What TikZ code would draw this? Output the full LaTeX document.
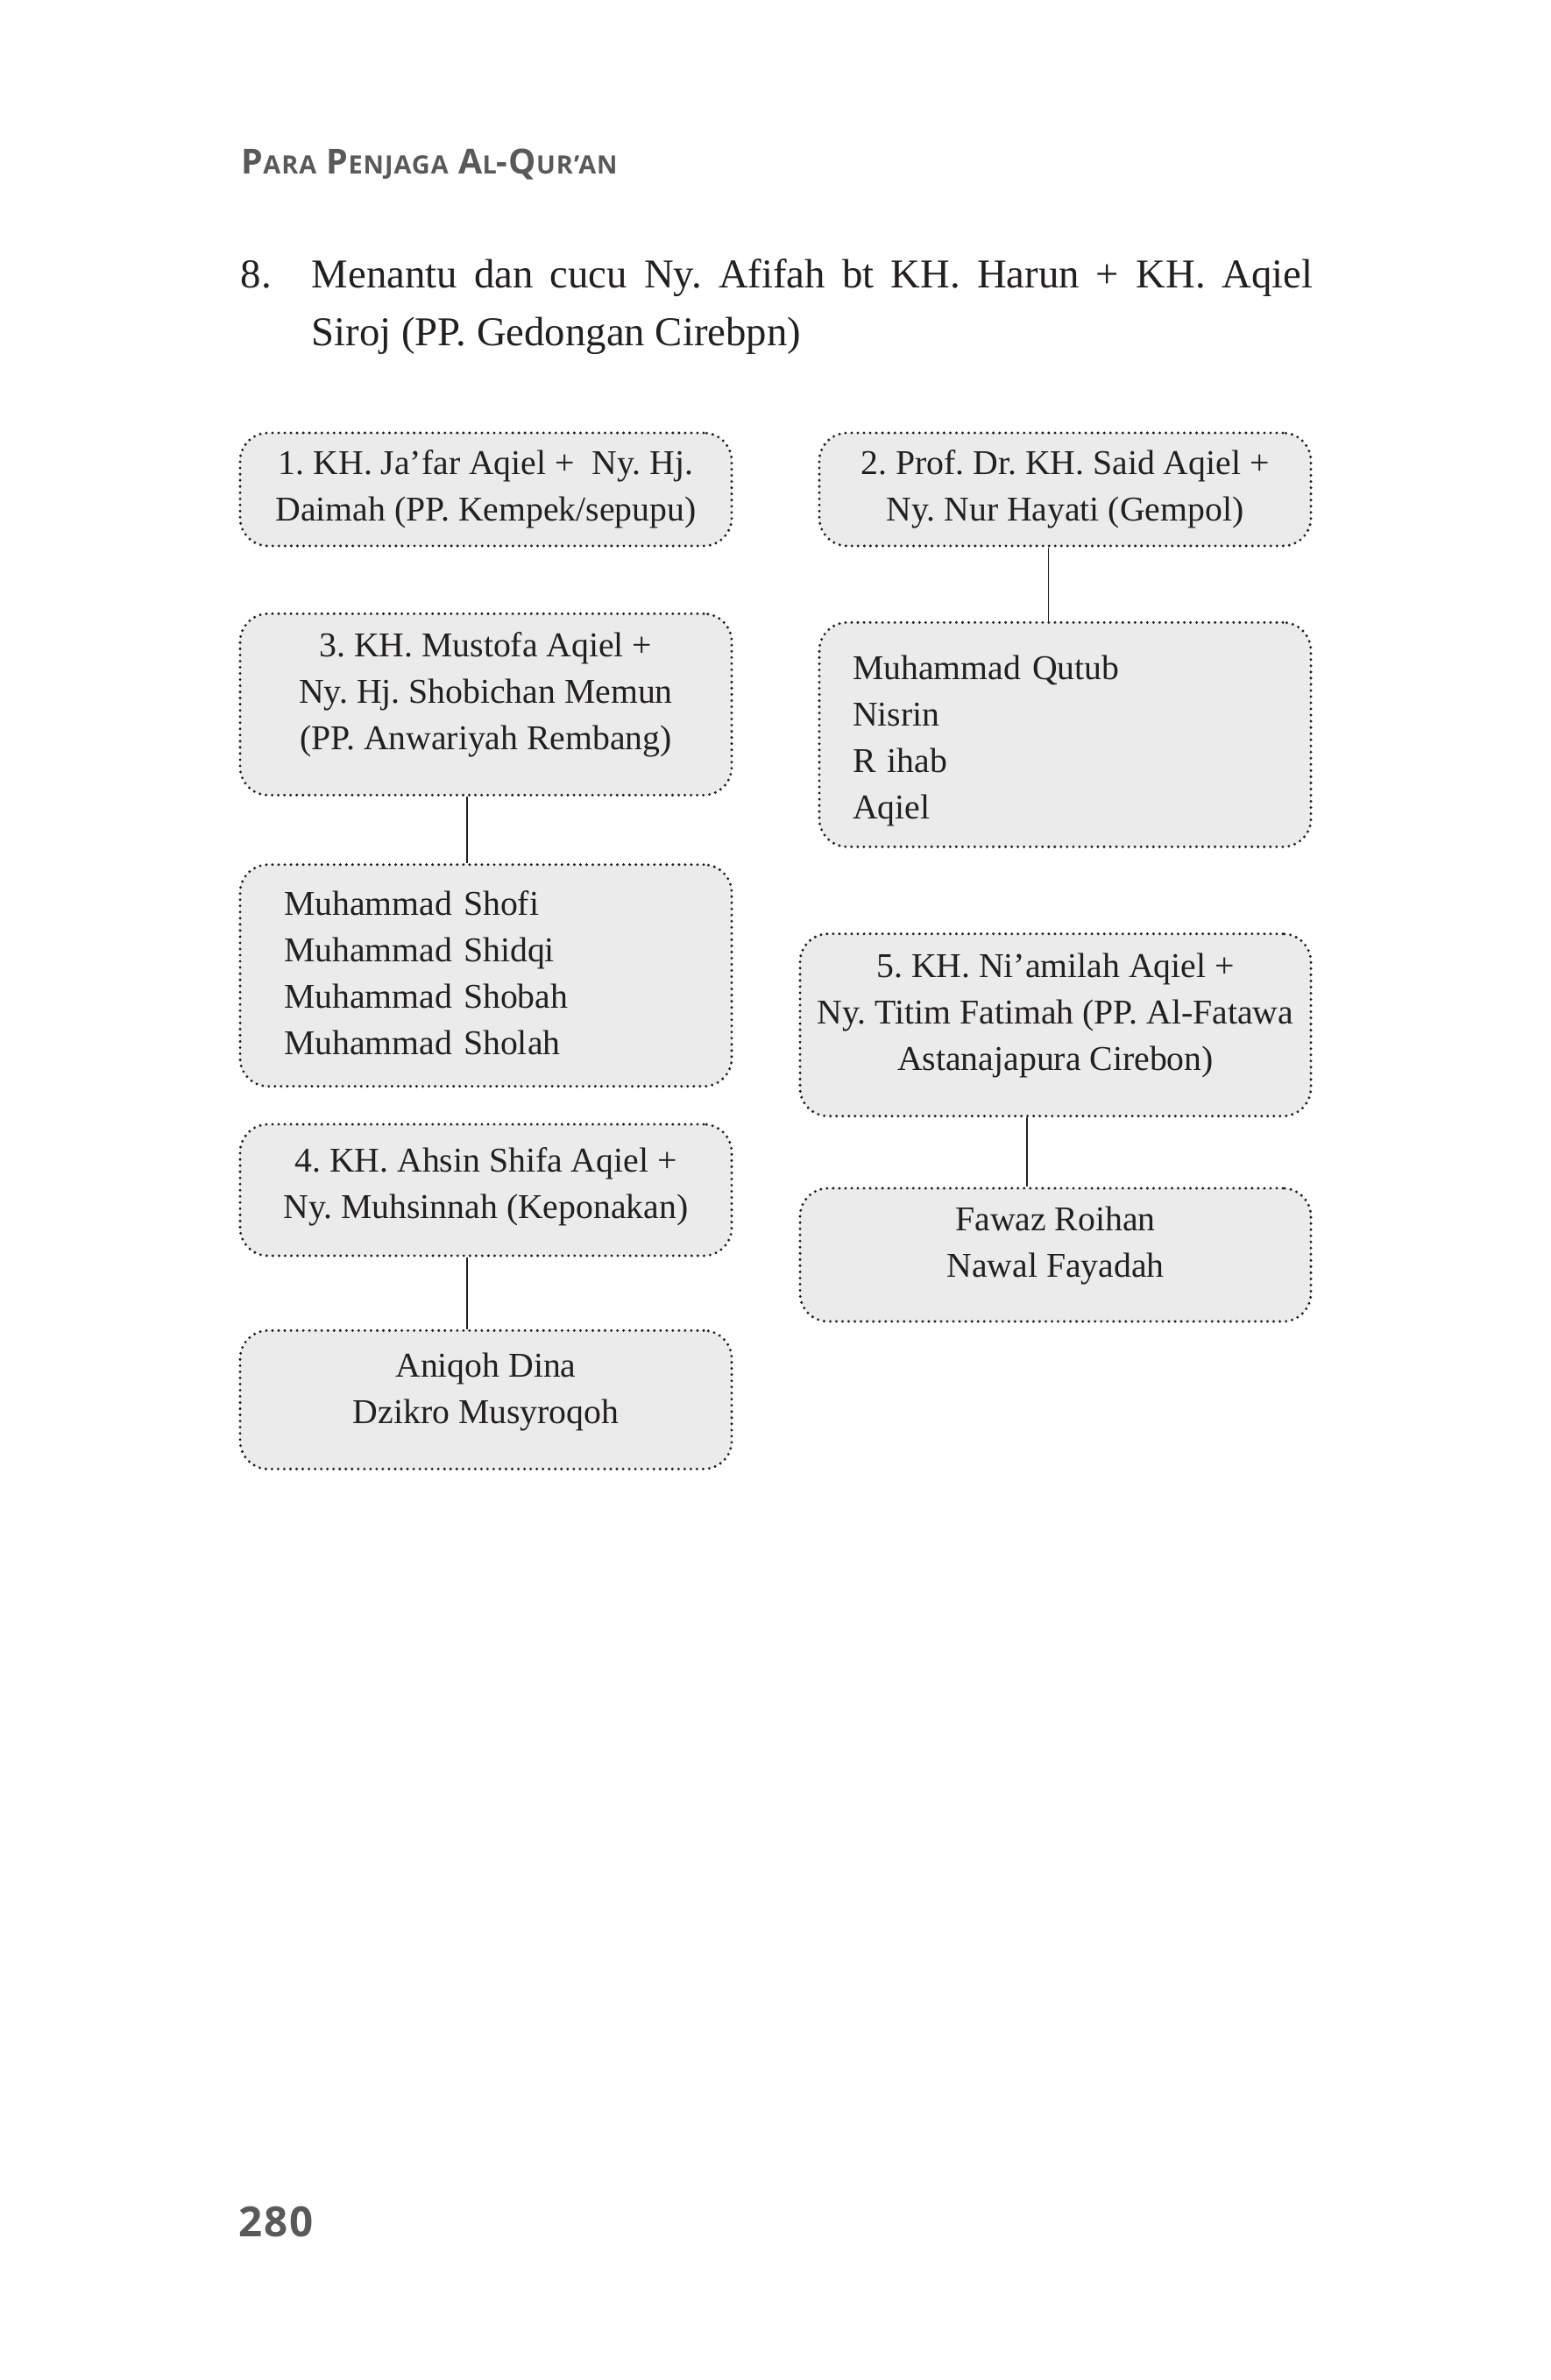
\documentclass[tikz,border=0pt]{standalone}
\usepackage{fontspec}
\setmainfont{Liberation Serif}
\newfontfamily\headfont{Open Sans}[LetterSpace=3.5]
\usepackage{xcolor}
\usetikzlibrary{positioning}
\definecolor{headgray}{HTML}{58595B}
\definecolor{boxfill}{HTML}{EBEBEB}
\definecolor{ink}{HTML}{231F20}
\hyphenpenalty=10000

\begin{document}
\frenchspacing
\begin{tikzpicture}[
    node distance=0.8cm,
    famil/.style={rectangle, draw=ink, fill=boxfill, rounded corners=0.32cm, line width=0.95pt, dash pattern=on 0pt off 2pt, line cap=round, minimum width=5.61cm, inner sep=0pt, align=center, text=ink, font=\fontsize{11.3}{15.1}\selectfont},
    kids/.style={famil, align=left},
    lift/.style={text depth=#1},
    lift/.default=0.3cm,
    link/.style={draw=ink, line width=0.4pt},
]

\path[fill=white, use as bounding box] (0,0) rectangle (17.7,-27.16);

% page head and foot
\node[anchor=base west, inner sep=0pt, text=headgray, font=\headfont\bfseries\fontsize{11.2}{12}\selectfont] (runhead) at (2.75,-1.98)
  {P{\fontsize{8.2}{9}\selectfont ARA} P{\fontsize{8.2}{9}\selectfont ENJAGA} A{\fontsize{8.2}{9}\selectfont L}-Q{\fontsize{8.2}{9}\selectfont UR’AN}};
\node[anchor=base west, inner sep=0pt, text=headgray, font=\headfont\bfseries\fontsize{13.5}{14}\selectfont] (pagenum) at (2.72,-25.52) {280};

% heading
\node[anchor=base west, inner sep=0pt, text=ink, font=\fontsize{13.3}{19}\selectfont] (num) at (2.74,-3.28) {8.};
\node[anchor=base west, inner sep=0pt, text=ink, text width=11.43cm, align=justify, font=\fontsize{13.3}{19}\selectfont] (title) at (3.55,-3.28)
  {Menantu dan cucu Ny. Afifah bt KH. Harun + KH. Aqiel\linebreak Siroj (PP. Gedongan Cirebpn)};

% left column
\node[famil, minimum height=1.29cm] (box1) at (5.545,-5.585) {1. KH. Ja’far Aqiel +\ \ Ny. Hj.\\Daimah (PP. Kempek/sepupu)};
\node[famil, lift, minimum height=2.07cm, below=0.74cm of box1] (box3) {3. KH. Mustofa Aqiel +\\Ny. Hj. Shobichan Memun\\(PP. Anwariyah Rembang)};
\node[kids, lift=1.66cm, minimum height=2.53cm, inner xsep=0.5cm, text width=4.61cm, below=0.76cm of box3] (kids3) {Muhammad Shofi\\Muhammad Shidqi\\Muhammad Shobah\\Muhammad Sholah};
\node[famil, lift=0.16cm, minimum height=1.5cm, below=0.4cm of kids3] (box4) {4. KH. Ahsin Shifa Aqiel +\\Ny. Muhsinnah (Keponakan)};
\node[famil, lift=0.26cm, minimum height=1.58cm, below=0.82cm of box4] (kids4) {Aniqoh Dina\\Dzikro Musyroqoh};

% right column
\node[famil, minimum height=1.29cm] (box2) at (12.155,-5.585) {2. Prof. Dr. KH. Said Aqiel +\\Ny. Nur Hayati (Gempol)};
\node[kids, text height=0.41cm, minimum height=2.56cm, inner xsep=0.38cm, text width=4.85cm, below=0.84cm of box2] (kids2) {Muhammad Qutub\\Nisrin\\R ihab\\Aqiel};
\node[famil, lift, minimum width=5.83cm, minimum height=2.08cm, anchor=north east] (box5) at ([yshift=-0.96cm]kids2.south east) {5. KH. Ni’amilah Aqiel +\\Ny. Titim Fatimah (PP. Al-Fatawa\\Astanajapura Cirebon)};
\node[famil, lift, minimum width=5.83cm, minimum height=1.52cm, below=0.79cm of box5] (kids5) {Fawaz Roihan\\Nawal Fayadah};

\draw[link] ([xshift=-0.215cm]box3.south) -- ([xshift=-0.215cm]kids3.north);
\draw[link] ([xshift=-0.215cm]box4.south) -- ([xshift=-0.215cm]kids4.north);
\draw[link] ([xshift=-0.19cm]box2.south) -- ([xshift=-0.19cm]kids2.north);
\draw[link] ([xshift=-0.325cm]box5.south) -- ([xshift=-0.325cm]kids5.north);

\end{tikzpicture}
\end{document}
